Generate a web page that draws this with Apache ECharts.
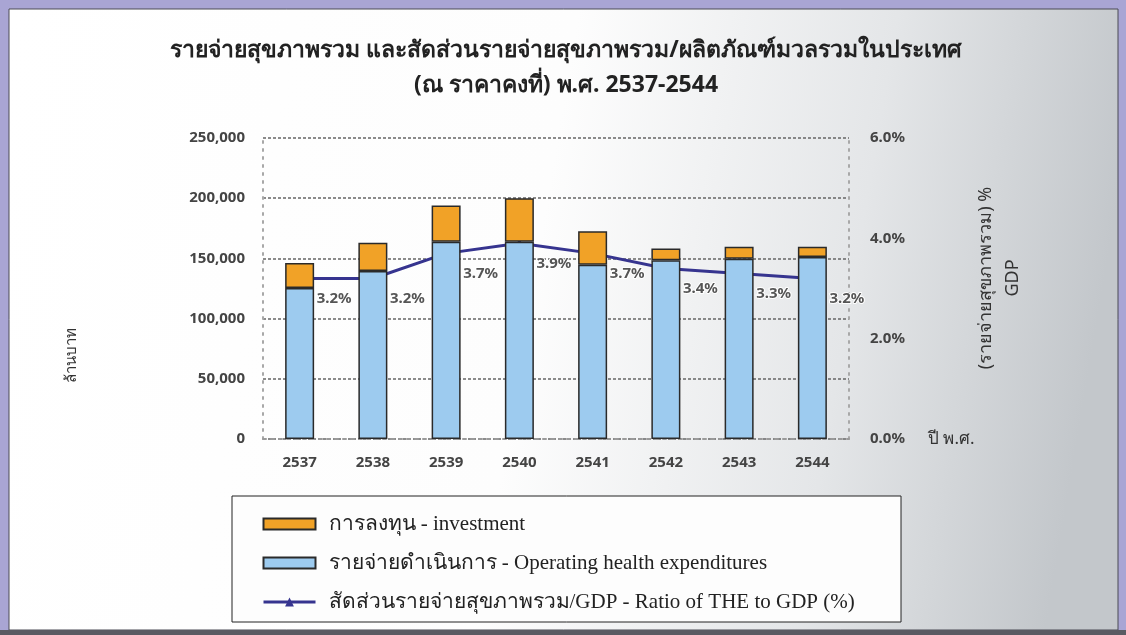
<!DOCTYPE html>
<html>
<head>
<meta charset="utf-8">
<title>รายจ่ายสุขภาพรวม</title>
<script src="https://cdn.jsdelivr.net/npm/echarts@6/dist/echarts.min.js"></script>
<style>
  html, body { margin: 0; padding: 0; background: #a9a5d4; }
  #chart { width: 1126px; height: 635px; }
</style>
</head>
<body>
<div id="chart"></div>
<script>
// Years (Buddhist era)
const years = ['2537', '2538', '2539', '2540', '2541', '2542', '2543', '2544'];
// Operating health expenditures, million baht
const operating = [125500, 139500, 163800, 163800, 144800, 148400, 149800, 151200];
// Investment, million baht
const investment = [20700, 23400, 30100, 36200, 27800, 9800, 9800, 8400];
// Ratio of total health expenditure to GDP, %
const ratio = [3.2, 3.2, 3.7, 3.9, 3.7, 3.4, 3.3, 3.2];

const seriesNames = [
  'การลงทุน - investment',
  'รายจ่ายดำเนินการ - Operating health expenditures',
  'สัดส่วนรายจ่ายสุขภาพรวม/GDP - Ratio of THE to GDP (%)'
];

const SANS = '"Noto Sans", "DejaVu Sans", sans-serif';
const SERIF = '"Liberation Serif", "DejaVu Serif", serif';
const LINE_COLOR = '#36348f';

const chart = echarts.init(document.getElementById('chart'));

chart.setOption({
  backgroundColor: '#a9a5d4',
  animation: false,
  graphic: [
    {
      type: 'rect', z: -10, silent: true,
      shape: { x: 9, y: 9, width: 1109, height: 621 },
      style: {
        stroke: '#4a4a55', lineWidth: 1,
        fill: {
          type: 'linear', x: 0, y: 0, x2: 1, y2: 0.3,
          colorStops: [
            { offset: 0, color: '#ffffff' },
            { offset: 0.5, color: '#fdfdfd' },
            { offset: 0.78, color: '#e4e6e8' },
            { offset: 1, color: '#c3c7cb' }
          ]
        }
      }
    },
    {
      type: 'rect', z: -10, silent: true,
      shape: { x: 0, y: 630, width: 1126, height: 5 },
      style: { fill: '#5a5a62' }
    },
    {
      // legend frame
      type: 'rect', z: -5, silent: true,
      shape: { x: 232, y: 496, width: 669, height: 126 },
      style: { stroke: '#222', lineWidth: 1, fill: '#fdfdfd' }
    },
    {
      type: 'text', silent: true,
      x: 72, y: 355, rotation: Math.PI / 2,
      style: {
        text: 'ล้านบาท', fontFamily: SANS, fontSize: 15, fill: '#333',
        align: 'center', verticalAlign: 'middle'
      }
    },
    {
      type: 'text', silent: true,
      x: 999, y: 278, rotation: Math.PI / 2,
      style: {
        text: '(รายจ่ายสุขภาพรวม) %\nGDP', fontFamily: SANS, fontSize: 18,
        lineHeight: 27, fill: '#333', align: 'center', verticalAlign: 'middle'
      }
    },
    {
      // chart title, two centred lines
      type: 'text', silent: true,
      x: 566, y: 68,
      style: {
        text: 'รายจ่ายสุขภาพรวม และสัดส่วนรายจ่ายสุขภาพรวม/ผลิตภัณฑ์มวลรวมในประเทศ\n(ณ ราคาคงที่) พ.ศ. 2537-2544',
        fontFamily: SANS, fontSize: 23, fontWeight: 'bold', fill: '#222',
        lineHeight: 35, align: 'center', verticalAlign: 'middle'
      }
    }
  ],
  legend: {
    data: [
      { name: seriesNames[0], icon: 'rect' },
      { name: seriesNames[1], icon: 'rect' },
      { name: seriesNames[2], lineStyle: { width: 3 } }
    ],
    orient: 'vertical',
    left: 257,
    top: 507,
    itemWidth: 52,
    itemHeight: 11,
    itemGap: 15,
    textStyle: {
      fontFamily: SERIF, fontSize: 21, color: '#222', lineHeight: 24,
      padding: [0, 0, 0, 8]
    }
  },
  grid: { left: 263, right: 277, top: 138, bottom: 196 },
  xAxis: {
    type: 'category',
    data: years,
    axisTick: { show: false },
    axisLine: { lineStyle: { color: '#9a9a9a', width: 2, type: [3, 5] } },
    axisLabel: {
      fontFamily: SANS, fontSize: 15, fontWeight: 'bold', color: '#444', margin: 16
    },
    name: 'ปี พ.ศ.',
    nameLocation: 'end',
    nameGap: 79,
    nameTextStyle: {
      fontFamily: SANS, fontSize: 17, color: '#333', verticalAlign: 'middle'
    }
  },
  yAxis: [
    {
      type: 'value',
      min: 0, max: 250000, interval: 50000,
      axisLine: { show: true, lineStyle: { color: '#a8a8a8', width: 2, type: [2, 6] } },
      axisTick: { show: false },
      splitLine: { lineStyle: { color: '#666', width: 1.5, type: [3, 2] } },
      axisLabel: {
        fontFamily: SANS, fontSize: 15, fontWeight: 'bold', color: '#444', margin: 18,
        formatter: v => v.toLocaleString('en-US')
      }
    },
    {
      type: 'value',
      min: 0, max: 6, interval: 2,
      position: 'right',
      axisLine: { show: true, lineStyle: { color: '#a8a8a8', width: 2, type: [2, 6] } },
      axisTick: { show: false },
      splitLine: { show: false },
      axisLabel: {
        fontFamily: SANS, fontSize: 15, fontWeight: 'bold', color: '#444', margin: 21,
        formatter: v => v.toFixed(1) + '%'
      }
    }
  ],
  series: [
    {
      name: seriesNames[1],
      type: 'bar',
      stack: 'the',
      data: operating,
      barWidth: 29,
      z: 3,
      itemStyle: { color: '#9dcbef', borderColor: '#2a2a2a', borderWidth: 1.5 }
    },
    {
      name: seriesNames[0],
      type: 'bar',
      stack: 'the',
      data: investment,
      barWidth: 29,
      z: 3,
      itemStyle: { color: '#f1a227', borderColor: '#2a2a2a', borderWidth: 1.5 }
    },
    {
      name: seriesNames[2],
      type: 'line',
      yAxisIndex: 1,
      data: ratio,
      z: 1,
      symbol: 'triangle',
      symbolSize: 10,
      lineStyle: { color: LINE_COLOR, width: 3 },
      itemStyle: { color: LINE_COLOR },
      label: {
        show: true,
        position: 'right',
        distance: 12,
        offset: [0, 20],
        formatter: p => p.value.toFixed(1) + '%',
        fontFamily: SANS, fontSize: 15, fontWeight: 'bold', color: '#555',
        textBorderColor: '#ffffff', textBorderWidth: 2
      }
    }
  ]
});
</script>
</body>
</html>
